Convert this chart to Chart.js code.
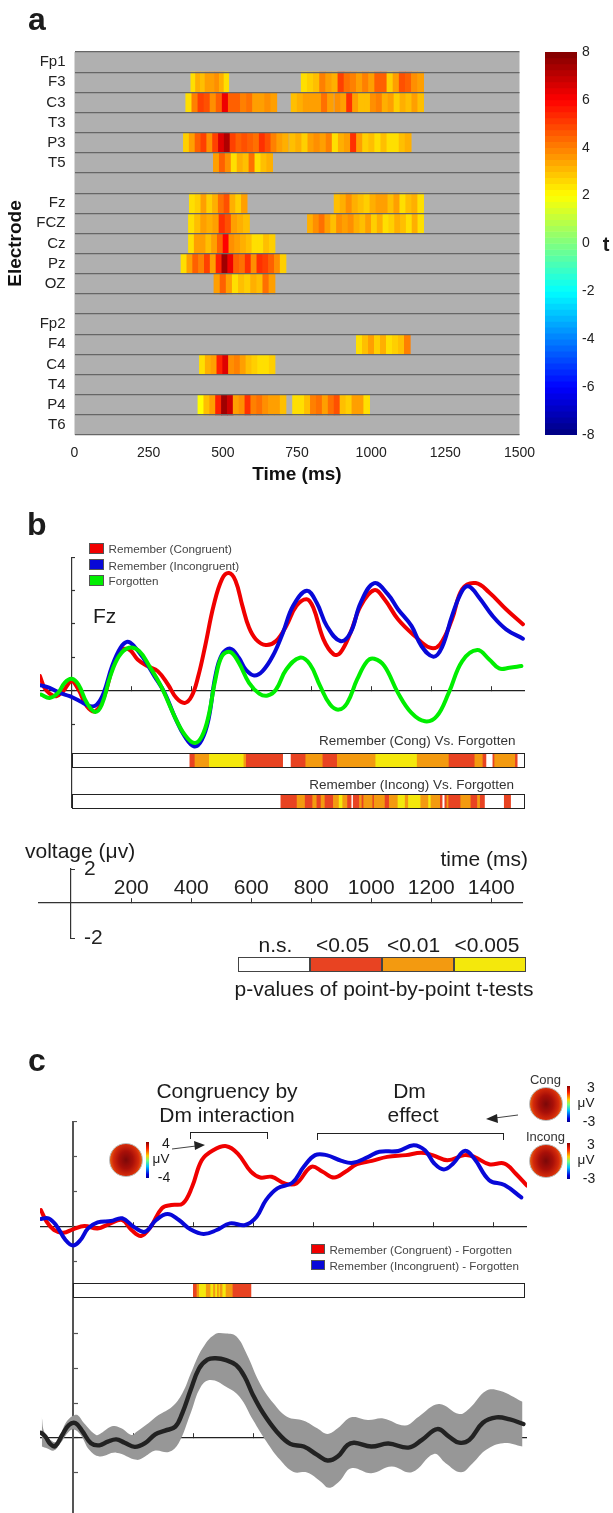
<!DOCTYPE html>
<html>
<head>
<meta charset="utf-8">
<title>ERP figure</title>
<script src="https://cdn.jsdelivr.net/npm/chart.js@4"></script>
<style>
  html, body { margin: 0; padding: 0; background: #fff; }
  #page { position: relative; width: 613px; height: 1513px; overflow: hidden; filter: blur(0.4px);
          font-family: "Liberation Sans", Arial, sans-serif; color: #1c1c1c; }
  #page canvas { position: absolute; display: block; }
  .txt { position: absolute; white-space: nowrap; line-height: 1; }
  .box { position: absolute; box-sizing: border-box; }
</style>
</head>
<body>
<div id="page"></div>
<script>
// ---- panel a : t values, [start ms, end ms, t of equal cells]
var electrodes = ["Fp1", "F3", "C3", "T3", "P3", "T5", " ", "Fz", "FCZ", "Cz", "Pz", "OZ", "  ", "Fp2", "F4", "C4", "T4", "P4", "T6"];
var heatF3 = [[392, 520, [2.4, 3.2, 3.0, 3.6, 3.4, 3.8, 3.2, 2.6]],
  [764, 1177, [2.5, 2.7, 3.0, 3.9, 3.5, 3.3, 4.9, 4.2, 3.9, 3.5, 4.0, 3.6, 4.5, 4.4, 2.8, 3.4, 4.8, 4.4, 3.8, 3.4]]];
var heatC3 = [[375, 682, [2.6, 4.0, 5.0, 4.8, 3.8, 4.6, 6.2, 4.6, 4.4, 4.0, 4.2, 3.4, 3.6, 3.7, 3.6]],
  [730, 873, [3.0, 3.2, 3.4, 3.6, 3.4, 4.2, 3.4]],
  [877, 1177, [3.8, 3.5, 5.2, 3.6, 2.9, 3.0, 3.8, 4.0, 3.2, 3.4, 2.8, 3.2, 3.0, 3.4, 3.0]]];
var heatP3 = [[367, 721, [2.8, 3.6, 4.4, 5.0, 3.8, 5.0, 6.4, 7.2, 5.0, 4.4, 4.8, 4.4, 4.2, 5.2, 4.8, 4.0, 3.6, 3.2]],
  [725, 1135, [3.0, 3.2, 2.8, 3.4, 3.8, 3.6, 4.0, 2.4, 3.2, 3.6, 5.2, 3.6, 2.8, 3.0, 2.6, 3.0, 2.4, 2.6, 3.0, 3.2]]];
var heatT5 = [[468, 668, [3.6, 4.6, 3.8, 2.6, 3.2, 2.9, 4.2, 2.4, 3.0, 3.2]]];
var heatFz = [[387, 582, [2.4, 2.8, 3.4, 2.7, 3.2, 4.2, 4.8, 3.2, 2.8, 3.4]],
  [875, 1177, [3.0, 3.2, 3.8, 3.2, 3.0, 2.8, 3.2, 3.6, 3.4, 3.0, 3.4, 2.6, 3.0, 3.2, 2.6]]];
var heatFCZ = [[384, 590, [2.4, 3.0, 3.6, 3.2, 3.4, 5.2, 4.8, 3.4, 3.2, 3.0]],
  [785, 1177, [3.2, 3.8, 4.2, 3.4, 3.0, 3.8, 3.4, 3.8, 3.2, 3.0, 3.4, 2.8, 3.2, 2.6, 2.8, 3.2, 3.0, 2.6, 3.2, 2.6]]];
var heatCz = [[384, 676, [2.6, 3.4, 3.6, 3.0, 3.6, 4.4, 6.0, 3.8, 3.6, 3.2, 3.0, 2.6, 2.4, 3.0, 2.8]]];
var heatPz = [[359, 713, [2.4, 3.6, 4.6, 4.0, 5.0, 3.6, 5.6, 7.6, 6.2, 4.4, 4.2, 5.2, 3.8, 5.2, 5.0, 4.4, 3.8, 2.8]]];
var heatOZ = [[470, 676, [3.4, 4.6, 3.4, 2.4, 3.0, 2.8, 3.2, 3.0, 4.2, 3.6]]];
var heatF4 = [[950, 1132, [2.4, 3.0, 3.6, 2.8, 3.2, 2.4, 2.8, 3.0, 4.0]]];
var heatC4 = [[421, 676, [2.4, 3.2, 3.6, 5.4, 6.4, 3.8, 3.9, 3.6, 3.0, 2.8, 2.6, 2.4, 2.8]]];
var heatP4 = [[416, 713, [2.0, 3.0, 3.6, 5.4, 7.4, 6.8, 3.6, 3.8, 5.2, 4.0, 4.2, 3.8, 3.6, 3.4, 3.0]],
  [735, 995, [2.4, 2.6, 3.0, 4.0, 4.2, 3.6, 4.2, 4.8, 3.0, 2.8, 3.6, 3.6, 2.6]]];
var heatRows = { F3: heatF3, C3: heatC3, P3: heatP3, T5: heatT5, Fz: heatFz, FCZ: heatFCZ, Cz: heatCz, Pz: heatPz, OZ: heatOZ, F4: heatF4, C4: heatC4, P4: heatP4 };
var heatTicks = [0, 250, 500, 750, 1000, 1250, 1500];
var barTicks = [-8, -6, -4, -2, 0, 2, 4, 6, 8];
var barLevels = [-8, -7.75, -7.5, -7.25, -7, -6.75, -6.5, -6.25, -6, -5.75, -5.5, -5.25, -5, -4.75, -4.5, -4.25,
  -4, -3.75, -3.5, -3.25, -3, -2.75, -2.5, -2.25, -2, -1.75, -1.5, -1.25, -1, -0.75, -0.5, -0.25,
  0, 0.25, 0.5, 0.75, 1, 1.25, 1.5, 1.75, 2, 2.25, 2.5, 2.75, 3, 3.25, 3.5, 3.75,
  4, 4.25, 4.5, 4.75, 5, 5.25, 5.5, 5.75, 6, 6.25, 6.5, 6.75, 7, 7.25, 7.5, 7.75];

// ---- panel b : Fz waveforms
var timeRedB = [-105, -90, -73, -51, -28, 0, 23, 51, 79, 107, 135, 163, 191, 220, 253, 287, 321, 349, 377, 400, 422, 445, 473, 501, 524, 546, 569, 591, 614, 647, 681, 715, 749, 783, 805, 839, 873, 895, 929, 963, 1008, 1042, 1087, 1143, 1194, 1227, 1267, 1301, 1346, 1391, 1447, 1503];
var voltRedB = [0.88, 0.18, -0.16, -0.32, -0.02, 0.58, 0.08, -0.92, -1.22, -0.42, 1.28, 2.38, 2.48, 1.88, 1.48, 1.18, 0.38, -0.42, -0.72, -0.32, 0.88, 2.68, 5.08, 6.68, 7.04, 6.58, 5.08, 3.78, 3.08, 2.74, 2.98, 3.88, 5.08, 5.48, 4.98, 3.08, 2.18, 2.28, 3.48, 5.08, 6.02, 5.48, 4.28, 3.28, 2.58, 2.78, 4.28, 6.08, 6.44, 5.88, 4.88, 3.98];
var timeBlueB = [-105, -73, -39, -6, 28, 62, 84, 107, 135, 163, 186, 208, 242, 276, 310, 343, 377, 409, 434, 456, 479, 501, 529, 557, 580, 608, 636, 670, 704, 738, 783, 816, 850, 895, 929, 963, 1008, 1053, 1087, 1132, 1165, 1205, 1233, 1267, 1301, 1323, 1357, 1402, 1447, 1503];
var voltBlueB = [0.34, 0.18, -0.12, -0.32, -0.62, -0.92, -0.82, -0.12, 1.48, 2.58, 2.94, 2.68, 1.88, 0.88, -0.12, -1.52, -2.72, -3.32, -2.92, -1.72, 0.88, 2.18, 2.52, 1.98, 1.28, 0.92, 1.18, 2.08, 3.48, 5.08, 5.98, 5.28, 3.88, 2.98, 3.48, 5.28, 6.44, 5.78, 4.88, 3.88, 2.68, 2.04, 2.58, 4.48, 5.98, 6.24, 5.58, 4.48, 3.68, 3.12];
var timeGreenB = [-101, -73, -45, -23, 0, 23, 51, 79, 101, 129, 158, 191, 225, 259, 298, 343, 377, 409, 434, 456, 479, 501, 529, 557, 591, 625, 653, 681, 715, 760, 794, 828, 861, 890, 918, 951, 985, 1008, 1042, 1087, 1132, 1177, 1216, 1256, 1301, 1351, 1391, 1424, 1458, 1498];
var voltGreenB = [-0.22, -0.42, -0.12, 0.48, 0.72, 0.38, -0.72, -1.26, -0.82, 0.88, 2.08, 2.58, 2.38, 1.48, 0.28, -1.52, -2.62, -3.12, -2.72, -1.52, 0.68, 2.08, 2.32, 1.68, 0.48, -0.16, -0.28, 0.08, 1.28, 1.98, 1.58, 0.28, -0.82, -1.12, -0.72, 0.68, 1.78, 1.92, 1.48, -0.12, -1.32, -1.82, -1.52, -0.12, 1.78, 2.44, 1.88, 1.34, 1.38, 1.48];
var voltTicksB = [-2, 0, 2, 4, 6, 8];
var timeTicks = [200, 400, 600, 800, 1000, 1200, 1400];
var scaleTicks = [-2, 2];

// significance runs: [from ms, to ms, level] level 1 <0.05, 2 <0.01, 3 <0.005
var sigCong = [[394, 411, 1], [411, 459, 2], [459, 574, 3], [574, 582, 2], [582, 703, 1], [731, 780, 1], [780, 837, 2], [837, 885, 1], [885, 1013, 2], [1013, 1151, 3], [1151, 1257, 2], [1257, 1343, 1], [1343, 1370, 2], [1370, 1380, 1], [1403, 1409, 1], [1409, 1478, 2], [1478, 1484, 1]];
var sigIncong = [[697, 751, 1], [751, 778, 2], [778, 803, 1], [803, 817, 2], [817, 831, 1], [831, 844, 2], [844, 872, 1], [872, 891, 2], [891, 903, 3], [903, 919, 2], [919, 931, 1], [938, 959, 1], [959, 967, 2], [967, 973, 1], [973, 1003, 2], [1003, 1008, 1], [1008, 1044, 2], [1044, 1058, 1], [1058, 1087, 2], [1087, 1111, 3], [1111, 1122, 2], [1122, 1163, 3], [1163, 1189, 2], [1189, 1197, 3], [1197, 1228, 2], [1228, 1234, 1], [1243, 1250, 1], [1250, 1256, 2], [1256, 1296, 1], [1296, 1330, 2], [1330, 1352, 1], [1352, 1361, 2], [1361, 1375, 1], [1441, 1462, 1]];
var sigDiff = [[401, 413, 1], [413, 421, 2], [421, 444, 3], [444, 459, 2], [459, 468, 3], [468, 475, 2], [475, 481, 3], [481, 487, 2], [487, 490, 3], [490, 499, 2], [499, 510, 3], [510, 533, 2], [533, 593, 1]];
var pLabels = ["n.s.", "<0.05", "<0.01", "<0.005"];
var pColors = ["#ffffff", "#e84322", "#f39a10", "#f4e80c"];

// ---- panel c : difference waves
var timeRedC = [-107, -88, -63, -32, 0, 38, 82, 120, 164, 195, 227, 259, 296, 328, 366, 397, 429, 467, 511, 549, 593, 624, 662, 706, 744, 794, 832, 870, 908, 946, 996, 1047, 1110, 1160, 1198, 1248, 1305, 1337, 1387, 1438, 1475, 1513];
var voltRedC = [0.95, 0.29, -0.19, -0.34, -0.15, 0.04, -0.1, 0.15, 0.38, -0.19, -0.53, 0, 1.05, 1.24, 1.33, 2.28, 3.8, 4.37, 4.6, 4.18, 3.14, 2.81, 2.85, 2.47, 2.47, 3.42, 3.14, 2.81, 3.14, 3.57, 3.76, 3.99, 4.09, 4.22, 4.09, 3.8, 4.09, 3.99, 3.57, 3.61, 3.04, 2.34];
var timeBlueC = [-107, -82, -57, -25, 0, 25, 50, 82, 126, 164, 202, 240, 277, 315, 353, 391, 435, 479, 523, 574, 612, 643, 681, 731, 769, 807, 845, 895, 933, 984, 1021, 1084, 1135, 1173, 1204, 1236, 1267, 1305, 1337, 1387, 1438, 1494];
var voltBlueC = [0.44, 0.48, 0.1, -0.76, -1.08, -0.76, -0.1, 0.25, 0.32, 0.48, 0, -0.29, 0.38, 0.72, 0.38, -0.15, -0.42, -0.19, 0.19, 0.1, 0.57, 1.52, 2.19, 2.51, 3.42, 4.09, 4.09, 3.76, 3.65, 3.99, 4.28, 4.33, 4.66, 4.37, 3.61, 3.27, 3.61, 4.33, 3.9, 2.66, 2.38, 1.67];
var timeMean = [-107, -92, -75, -59, -36, -14, 9, 32, 60, 88, 116, 144, 172, 206, 240, 274, 307, 341, 364, 392, 420, 448, 476, 510, 544, 572, 600, 634, 679, 724, 769, 814, 848, 882, 915, 938, 994, 1051, 1118, 1163, 1214, 1253, 1287, 1321, 1366, 1411, 1456, 1501];
var voltMean = [0.3, 0.08, -0.36, -0.46, 0.17, 0.74, 0.84, 0.36, -0.3, -0.42, -0.21, -0.08, -0.27, -0.51, -0.3, 0.21, 0.42, 0.65, 1.41, 2.74, 3.97, 4.48, 4.56, 4.45, 4.16, 3.5, 2.45, 1.41, 0.36, -0.34, -0.49, -0.97, -1.29, -1.06, -0.4, -0.27, -0.49, -0.32, -0.55, -0.11, 0.51, 0.08, -0.27, -0.11, 0.87, 1.18, 1.06, 0.8];
var timeUpper = [-104, -96, -75, -53, -25, -2, 15, 37, 77, 93, 133, 161, 195, 212, 251, 285, 330, 364, 397, 431, 471, 510, 544, 578, 623, 668, 713, 769, 814, 848, 882, 927, 983, 1034, 1107, 1152, 1219, 1287, 1321, 1377, 1422, 1498];
var voltUpper = [1.22, 0.36, -0.11, -0.21, 0.84, 1.25, 1.31, 0.84, 0.17, 0.27, 0.68, 0.55, 0.17, 0.36, 0.84, 1.31, 1.79, 2.55, 3.88, 5.11, 5.91, 5.97, 5.81, 4.83, 3.12, 1.98, 1.22, 0.99, 0.55, 0.23, 0.55, 1.18, 1.03, 1.12, 0.72, 1.22, 1.94, 1.37, 1.69, 2.7, 2.7, 2.07];
var timeLower = [-104, -87, -64, -42, -14, 3, 26, 54, 88, 144, 212, 240, 274, 319, 352, 392, 426, 459, 510, 555, 600, 645, 690, 735, 780, 825, 853, 887, 927, 994, 1062, 1129, 1203, 1242, 1293, 1332, 1377, 1433, 1498];
var voltLower = [-0.49, -0.59, -0.72, -0.3, 0.36, 0.49, 0.17, -0.68, -1.06, -0.84, -1.25, -1.06, -0.72, -0.8, -0.3, 1.41, 2.93, 3.31, 2.93, 2.36, 1.03, -0.21, -1.25, -1.94, -1.98, -2.49, -2.85, -2.49, -1.73, -2.01, -1.63, -1.96, -0.91, -1.44, -1.96, -1.44, -0.68, -0.3, -0.49];
var voltTicksC = [-2, 0, 2, 4, 6];

var page = document.getElementById("page");
Chart.defaults.font.family = '"Liberation Sans", Arial, sans-serif';
Chart.defaults.color = "#1c1c1c";
Chart.defaults.animation = false;
Chart.defaults.responsive = false;
Chart.defaults.plugins.legend.display = false;
Chart.defaults.plugins.tooltip.enabled = false;

function addCanvas(left, top, w, h) {
  var c = document.createElement("canvas");
  c.width = w; c.height = h;
  c.style.left = left + "px"; c.style.top = top + "px";
  c.style.width = w + "px"; c.style.height = h + "px";
  page.appendChild(c);
  return c.getContext("2d");
}
// anchor: 0 left, 0.5 centre, 1 right; y is the text's vertical middle
function addText(str, x, y, size, opts) {
  opts = opts || {};
  var s = document.createElement("span");
  s.className = "txt";
  s.textContent = str;
  s.style.left = x + "px"; s.style.top = y + "px";
  s.style.fontSize = size + "px";
  if (opts.bold) s.style.fontWeight = "bold";
  if (opts.color) s.style.color = opts.color;
  s.style.transform = "translate(" + (-100 * (opts.anchor || 0)) + "%,-50%)";
  page.appendChild(s);
}
function addBox(x, y, w, h, css) {
  var d = document.createElement("div");
  d.className = "box";
  d.style.left = x + "px"; d.style.top = y + "px";
  d.style.width = w + "px"; d.style.height = h + "px";
  for (var k in css) d.style[k] = css[k];
  page.appendChild(d);
}
function jet(t) {
  var v = (t + 8) / 16;
  function ch(c) { return Math.round(255 * Math.max(0, Math.min(1, 1.5 - Math.abs(4 * v - c)))); }
  return "rgb(" + ch(3) + "," + ch(2) + "," + ch(1) + ")";
}
function xy(ts, vs) {
  return ts.map(function (t, i) { return { x: t, y: vs[i] }; });
}
function tickList(list) {
  return function (scale) { scale.ticks = list.map(function (v) { return { value: v }; }); };
}
// keep the plot area exactly where the layout padding puts it
function noPadding(scale) {
  scale.paddingLeft = 0; scale.paddingRight = 0; scale.paddingTop = 0; scale.paddingBottom = 0;
}
function wave(points, color, width) {
  return { data: points, borderColor: color, borderWidth: width, pointRadius: 0, tension: 0.4,
    fill: false, borderCapStyle: "round", borderJoinStyle: "round" };
}
// waveform axes crossing at (0,0), ticks turned inward
function waveOptions(xmin, xmax, ymin, ymax, yTicks, axisColor, axisWidth, tickLen) {
  return {
    layout: { padding: 0 },
    scales: {
      x: { type: "linear", min: xmin, max: xmax, position: { y: 0 }, afterBuildTicks: tickList(timeTicks),
        ticks: { display: false }, border: { color: "#222", width: 1.2 },
        grid: { drawOnChartArea: false, tickLength: -5, color: "#333", tickWidth: 1 } },
      y: { type: "linear", min: ymin, max: ymax, position: { x: 0 }, afterBuildTicks: tickList(yTicks),
        ticks: { display: false }, border: { color: axisColor, width: axisWidth },
        grid: { drawOnChartArea: false, tickLength: -tickLen, color: axisColor, tickWidth: 1.2 } }
    }
  };
}
function sigStrip(left, top, w, h, xmin, xmax, runs) {
  new Chart(addCanvas(left, top, w, h), {
    type: "bar",
    data: {
      labels: ["p"],
      datasets: [{
        data: runs.map(function (r) { return { x: [r[0], r[1]], y: "p", level: r[2] }; }),
        backgroundColor: function (ctx) { return ctx.raw ? pColors[ctx.raw.level] : "#fff"; },
        barPercentage: 1, categoryPercentage: 1
      }]
    },
    options: { indexAxis: "y", layout: { padding: 0 },
      scales: { x: { type: "linear", min: xmin, max: xmax, display: false }, y: { type: "category", display: false } } }
  });
}

// ---------------- panel a
addText("a", 28, 19, 32, { bold: true });
var heatCells = [];
Object.keys(heatRows).forEach(function (name) {
  heatRows[name].forEach(function (seg) {
    var w = (seg[1] - seg[0]) / seg[2].length;
    seg[2].forEach(function (t, i) {
      heatCells.push({ x: [seg[0] + i * w, seg[0] + (i + 1) * w], y: name, t: t });
    });
  });
});
new Chart(addCanvas(0, 42, 535, 448), {
  type: "bar",
  data: { labels: electrodes, datasets: [{
    data: heatCells,
    backgroundColor: function (ctx) { return ctx.raw ? jet(Math.round(ctx.raw.t * 4) / 4) : "#000"; },
    barPercentage: 1, categoryPercentage: 1
  }] },
  options: {
    indexAxis: "y",
    layout: { padding: { top: 10, right: 15.5 } },
    scales: {
      x: { type: "linear", min: 0, max: 1500, afterBuildTicks: tickList(heatTicks),
        afterFit: function (s) { s.height = 55; noPadding(s); },
        grid: { display: false, drawTicks: false }, border: { display: false },
        ticks: { font: { size: 14 }, padding: 10, maxRotation: 0, color: "#222", callback: function (v) { return String(v); } },
        title: { display: true, text: "Time (ms)", font: { size: 19, weight: "bold" }, padding: { top: 3 }, color: "#111" } },
      y: { type: "category", afterFit: function (s) { s.width = 74.5; noPadding(s); },
        grid: { color: "#666", lineWidth: 1.2, z: 1, drawTicks: false }, border: { display: false },
        ticks: { font: { size: 15 }, padding: 9, autoSkip: false, color: "#222" },
        title: { display: true, text: "Electrode", font: { size: 19, weight: "bold" }, padding: { top: 4, bottom: 0 }, color: "#111" } }
    }
  },
  plugins: [{ id: "plotBg", beforeDatasetsDraw: function (c) {
    var a = c.chartArea;
    c.ctx.save(); c.ctx.fillStyle = "#b0b0b0"; c.ctx.fillRect(a.left, a.top, a.width, a.height); c.ctx.restore();
  } }]
});
// colour bar
new Chart(addCanvas(535, 42, 78, 403), {
  type: "bar",
  data: { labels: ["t"], datasets: [{
    data: barLevels.map(function (lo) { return { x: "t", y: [lo, lo + 0.25], t: lo + 0.125 }; }),
    backgroundColor: function (ctx) { return ctx.raw ? jet(ctx.raw.t) : "#000"; },
    barPercentage: 1, categoryPercentage: 1
  }] },
  options: {
    layout: { padding: { top: 10, bottom: 10, left: 10 } },
    scales: {
      x: { type: "category", display: false },
      y: { type: "linear", min: -8, max: 8, position: "right", afterBuildTicks: tickList(barTicks),
        afterFit: function (s) { s.width = 36; noPadding(s); },
        grid: { display: false, drawTicks: false }, border: { display: false },
        ticks: { font: { size: 14 }, padding: 5, color: "#222" } }
    }
  }
});
addText("t", 606, 244, 20, { bold: true, anchor: 0.5 });

// ---------------- panel b
addText("b", 27, 524, 32, { bold: true });
new Chart(addCanvas(40, 557, 485, 251), {
  type: "line",
  data: { datasets: [
    wave(xy(timeGreenB, voltGreenB), "#00ee00", 4),
    wave(xy(timeBlueB, voltBlueB), "#0808d8", 4),
    wave(xy(timeRedB, voltRedB), "#f00000", 4)
  ] },
  options: waveOptions(-105, 1510, -7, 8, voltTicksB, "#333", 1.2, 4)
});
[["Remember (Congruent)", "#f00000", 548], ["Remember (Incongruent)", "#0808d8", 564.5], ["Forgotten", "#00ee00", 580]].forEach(function (e) {
  addBox(89, e[2] - 5.5, 15, 11, { background: e[1], border: "1px solid #555" });
  addText(e[0], 108.5, e[2] + 1, 11.7, { color: "#444" });
});
addText("Fz", 93, 615, 21);
addText("Remember (Cong) Vs. Forgotten", 515.5, 741, 13.5, { anchor: 1, color: "#333" });
addText("Remember (Incong) Vs. Forgotten", 514, 785, 13.5, { anchor: 1, color: "#333" });
sigStrip(40, 753, 485, 15, -105, 1510, sigCong);
addBox(72, 753, 453, 15, { border: "1.2px solid #222" });
sigStrip(40, 794, 485, 15, -105, 1510, sigIncong);
addBox(72, 794, 453, 15, { border: "1.2px solid #222" });

// scale bar: time axis
new Chart(addCanvas(38, 860, 485, 60), {
  type: "line",
  data: { datasets: [{ data: [] }] },
  options: {
    layout: { padding: 0 },
    scales: {
      x: { type: "linear", min: -111, max: 1506, position: { y: 0 }, afterBuildTicks: tickList(timeTicks),
        afterFit: noPadding,
        border: { color: "#333", width: 1.2 },
        grid: { drawOnChartArea: false, tickLength: -5, color: "#333" },
        ticks: { font: { size: 21 }, padding: -22, maxRotation: 0, color: "#222", callback: function (v) { return String(v); } } },
      y: { type: "linear", min: -1, max: 2.54, display: false }
    }
  }
});
// scale bar: voltage bracket
new Chart(addCanvas(70, 849, 50, 109), {
  type: "line",
  data: { datasets: [{ data: [] }] },
  options: {
    layout: { padding: { top: 20, bottom: 20 } },
    scales: {
      x: { type: "linear", display: false },
      y: { type: "linear", min: -2, max: 2, position: "left", afterBuildTicks: tickList(scaleTicks),
        afterFit: function (s) { s.width = 1; noPadding(s); },
        border: { color: "#333", width: 1.2 },
        grid: { drawOnChartArea: false, tickLength: -4, color: "#333" },
        ticks: { mirror: true, font: { size: 21 }, padding: 13, color: "#222", callback: function (v) { return String(v); } } }
    }
  }
});
addText("voltage (\u03bcv)", 25, 850, 21);
addText("time (ms)", 528, 858, 21, { anchor: 1 });
// p-value key
[[238, 72], [310, 71.5], [381.5, 72], [453.5, 72.5]].forEach(function (c, i) {
  addBox(c[0], 956.5, c[1], 15.5, { background: pColors[i], border: "1px solid #444" });
});
[275.5, 342.5, 413.5, 487].forEach(function (x, i) { addText(pLabels[i], x, 944, 21, { anchor: 0.5 }); });
addText("p-values of point-by-point t-tests", 384, 988, 21, { anchor: 0.5 });

// ---------------- panel c
addText("c", 28, 1060, 32, { bold: true });
addText("Congruency by", 227, 1090, 21, { anchor: 0.5 });
addText("Dm interaction", 227, 1114, 21, { anchor: 0.5 });
addText("Dm", 409.5, 1090, 21, { anchor: 0.5 });
addText("effect", 413, 1114, 21, { anchor: 0.5 });
addBox(190, 1132, 78, 7, { borderTop: "1.2px solid #222", borderLeft: "1.2px solid #222", borderRight: "1.2px solid #222" });
addBox(317, 1133, 186.5, 7, { borderTop: "1.2px solid #222", borderLeft: "1.2px solid #222", borderRight: "1.2px solid #222" });

new Chart(addCanvas(40, 1121, 487, 179), {
  type: "line",
  data: { datasets: [
    wave(xy(timeBlueC, voltBlueC), "#0808d8", 4),
    wave(xy(timeRedC, voltRedC), "#f00000", 4)
  ] },
  options: waveOptions(-110, 1513, -4.19, 6.04, voltTicksC, "#555", 2, 5)
});
sigStrip(40, 1283, 487, 15, -110, 1513, sigDiff);
addBox(73, 1283, 452, 15, { border: "1.2px solid #222" });

new Chart(addCanvas(40, 1300, 487, 213), {
  type: "line",
  data: { datasets: [
    wave(xy(timeMean, voltMean), "#222222", 4.4),
    { data: xy(timeUpper, voltUpper), borderWidth: 0, borderColor: "transparent", pointRadius: 0, tension: 0.4, fill: "+1", backgroundColor: "#979797" },
    { data: xy(timeLower, voltLower), borderWidth: 0, borderColor: "transparent", pointRadius: 0, tension: 0.4, fill: false }
  ] },
  options: waveOptions(-110, 1513, -4.29, 7.89, voltTicksC, "#555", 2, 6)
});
[["Remember (Congruent) - Forgotten", "#f00000", 1249], ["Remember (Incongruent) - Forgotten", "#0808d8", 1265]].forEach(function (e) {
  addBox(310.5, e[2] - 5, 14, 10, { background: e[1], border: "1px solid #555" });
  addText(e[0], 329.5, e[2] + 1, 11.6, { color: "#444" });
});

// scalp maps and their little colour keys
function scalp(cx, cy, barX, keyX, hi, lo) {
  addBox(cx - 17, cy - 17, 34, 34, { borderRadius: "50%", border: "1px solid #bbb",
    background: "radial-gradient(ellipse 55% 68% at 50% 50%, #7c0808 0%, #a80f08 40%, #d42a0a 72%, #ee7a14 100%)" });
  addBox(barX, cy - 18, 2.6, 36, { background: "linear-gradient(#8b0000,#ff2000 18%,#ffd000 38%,#70ff80 52%,#00c0ff 68%,#0000e0 90%,#000090)" });
  addText(hi, keyX + 5, cy - 17, 14, { anchor: 0.5 });
  addText("\u03bcV", keyX, cy - 1, 13.5, { anchor: 0.5 });
  addText(lo, keyX + 3, cy + 17, 14, { anchor: 0.5 });
}
scalp(125.5, 1160, 146, 161, "4", "-4");
scalp(545.5, 1104, 567, 586, "3", "-3");
scalp(545.5, 1161, 567, 586, "3", "-3");
addText("Cong", 545.5, 1079, 13, { anchor: 0.5, color: "#333" });
addText("Incong", 545.5, 1136, 13, { anchor: 0.5, color: "#333" });
var arrows = document.createElementNS("http://www.w3.org/2000/svg", "svg");
arrows.setAttribute("width", "613"); arrows.setAttribute("height", "1513");
arrows.style.position = "absolute"; arrows.style.left = "0"; arrows.style.top = "0";
arrows.innerHTML = '<line x1="172" y1="1149" x2="196" y2="1146" stroke="#444" stroke-width="1"/><path d="M205 1145 L194 1141 L195 1150 Z" fill="#222"/>' +
  '<line x1="518" y1="1115" x2="495" y2="1118" stroke="#444" stroke-width="1"/><path d="M486 1119 L497 1114 L498 1123 Z" fill="#222"/>';
page.appendChild(arrows);
</script>
</body>
</html>
